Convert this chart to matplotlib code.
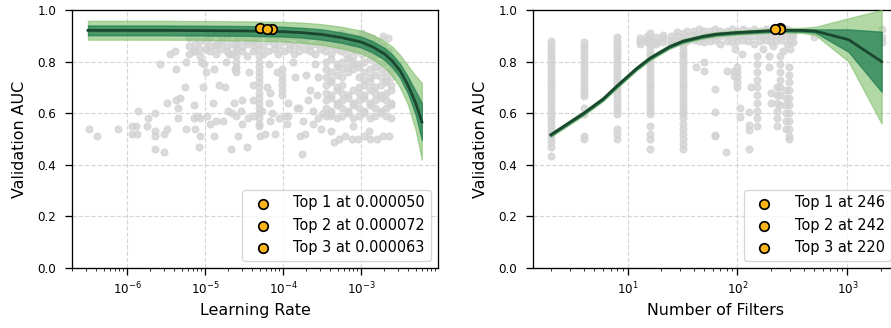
import matplotlib.pyplot as plt
import numpy as np

# ---- learning-rate panel: fitted trend + bands (x given as log10 of learning rate) ----
lr_fit_exp = [-6.5, -6.0, -5.5, -5.0, -4.5, -4.0, -3.75, -3.5, -3.25, -3.0,
              -2.85, -2.7, -2.6, -2.5, -2.4, -2.3, -2.22]
lr_fit_mean = [0.921, 0.921, 0.921, 0.920, 0.919, 0.916, 0.912, 0.905, 0.893, 0.876,
               0.857, 0.830, 0.803, 0.765, 0.710, 0.640, 0.566]
lr_outer_hi = [0.958, 0.958, 0.958, 0.957, 0.956, 0.954, 0.951, 0.945, 0.935, 0.920,
               0.904, 0.880, 0.858, 0.826, 0.785, 0.745, 0.717]
lr_outer_lo = [0.885, 0.885, 0.885, 0.884, 0.882, 0.878, 0.873, 0.865, 0.851, 0.832,
               0.810, 0.778, 0.745, 0.700, 0.635, 0.535, 0.420]
lr_inner_hi = [0.940, 0.940, 0.940, 0.939, 0.938, 0.935, 0.931, 0.925, 0.913, 0.897,
               0.879, 0.853, 0.828, 0.792, 0.742, 0.685, 0.640]
lr_inner_lo = [0.902, 0.902, 0.902, 0.901, 0.900, 0.897, 0.893, 0.885, 0.873, 0.855,
               0.835, 0.807, 0.778, 0.738, 0.678, 0.595, 0.496]

# top three runs
lr_top = [0.000050, 0.000072, 0.000063]
lr_top_auc = [0.929, 0.928, 0.928]

# grey scatter of all runs (log10 learning rate, AUC)
lr_sparse_exp = [-6.49, -6.38, -6.11, -5.94, -5.88, -5.94, -5.87, -5.86, -5.73, -5.74,
                 -5.64, -5.64, -5.64, -5.64, -5.52, -5.58, -5.52, -5.49, -5.49, -5.37,
                 -5.37, -5.35, -5.35, -5.32, -5.45, -5.39, -5.26, -5.24, -5.24, -5.16,
                 -5.14, -5.14, -5.13, -5.10, -5.07, -5.08, -5.07, -5.05, -5.03, -5.01,
                 -4.99, -4.97, -4.94, -4.90, -4.89, -4.88, -4.86, -4.86, -4.82, -4.80,
                 -4.77, -4.75, -4.73, -4.71, -4.69, -4.67, -4.65, -4.63, -4.61, -4.58,
                 -4.54, -4.53, -4.52, -4.48, -4.46, -4.44, -4.39, -4.39, -4.37, -4.37,
                 -4.29, -4.27, -4.23, -4.20, -4.18, -4.18, -4.17, -4.17, -4.14, -4.10,
                 -4.08, -3.97, -3.93, -3.93, -3.87, -3.85, -3.82, -3.80, -3.78, -3.76,
                 -3.72, -3.70, -3.68, -3.66, -3.61, -3.59, -3.57, -3.55, -3.51, -3.49,
                 -3.40, -3.38, -3.34, -3.55, -3.62, -3.74, -3.95, -4.05, -4.45, -4.60]
lr_sparse_auc = [0.54, 0.51, 0.54, 0.55, 0.55, 0.52, 0.52, 0.61, 0.58, 0.55,
                 0.60, 0.53, 0.51, 0.46, 0.45, 0.79, 0.52, 0.54, 0.64, 0.65,
                 0.77, 0.62, 0.58, 0.66, 0.83, 0.84, 0.70, 0.80, 0.54, 0.84,
                 0.63, 0.58, 0.54, 0.59, 0.51, 0.47, 0.58, 0.80, 0.70, 0.79,
                 0.76, 0.59, 0.56, 0.64, 0.77, 0.51, 0.57, 0.86, 0.71, 0.88,
                 0.57, 0.70, 0.80, 0.61, 0.83, 0.46, 0.60, 0.64, 0.77, 0.51,
                 0.61, 0.56, 0.65, 0.88, 0.47, 0.76, 0.71, 0.65, 0.59, 0.86,
                 0.51, 0.61, 0.52, 0.70, 0.64, 0.79, 0.68, 0.57, 0.60, 0.52,
                 0.76, 0.59, 0.64, 0.59, 0.80, 0.74, 0.62, 0.62, 0.51, 0.44,
                 0.52, 0.75, 0.65, 0.69, 0.61, 0.79, 0.67, 0.74, 0.54, 0.60,
                 0.59, 0.53, 0.49, 0.58, 0.56, 0.57, 0.56, 0.58, 0.58, 0.59]

lr_band_exp = [-5.21, -5.13, -5.06, -4.99, -4.93, -4.86, -4.79, -4.72, -4.66, -4.59,
               -4.52, -4.46, -4.39, -4.32, -4.26, -4.19, -4.12, -4.06, -3.99, -3.92,
               -3.86, -3.79, -3.72, -3.66, -3.59, -3.52, -3.46, -3.39, -3.32, -3.26,
               -3.19, -3.12, -3.06, -2.99, -2.92, -2.86, -2.79, -2.72, -2.66]
lr_band_row1 = [0.89, 0.90, 0.88, 0.90, 0.89, 0.91, 0.90, 0.89, 0.91, 0.90,
                0.90, 0.91, 0.89, 0.90, 0.91, 0.90, 0.89, 0.90, 0.91, 0.90,
                0.90, 0.89, 0.91, 0.90, 0.90, 0.91, 0.90, 0.89, 0.90, 0.91,
                0.90, 0.90, 0.89, 0.91, 0.90, 0.89, 0.88, 0.90, 0.89]
lr_band_row2 = [0.86, 0.87, 0.85, 0.88, 0.86, 0.87, 0.88, 0.86, 0.87, 0.88,
                0.86, 0.87, 0.88, 0.87, 0.86, 0.88, 0.87, 0.86, 0.88, 0.87,
                0.86, 0.87, 0.88, 0.86, 0.87, 0.88, 0.87, 0.86, 0.88, 0.87,
                0.86, 0.87, 0.88, 0.86, 0.87, 0.86, 0.85, 0.86, 0.84]
lr_band_row3 = [0.83, 0.84, 0.82, 0.85, 0.84, 0.83, 0.85, 0.84, 0.83, 0.85,
                0.84, 0.82, 0.84, 0.85, 0.83, 0.84, 0.85, 0.83, 0.84, 0.85,
                0.83, 0.84, 0.85, 0.84, 0.83, 0.85, 0.84, 0.83, 0.85, 0.84,
                0.83, 0.85, 0.84, 0.83, 0.84, 0.82, 0.83, 0.84, 0.81]

lr_column_exp = [-4.31] * 15 + [-4.60] * 7 + [-4.01] * 6
lr_column_auc = [0.82, 0.80, 0.78, 0.76, 0.74, 0.72, 0.70, 0.68, 0.66, 0.64,
                 0.62, 0.60, 0.58, 0.56, 0.55,
                 0.88, 0.86, 0.84, 0.82, 0.80, 0.78, 0.76,
                 0.77, 0.75, 0.73, 0.71, 0.69, 0.67]

lr_cluster_exp = [-3.45, -3.38, -3.31, -3.24, -3.17, -3.10, -3.03, -2.96, -2.89, -2.82,
                  -2.75, -2.68, -2.62]
lr_cluster_rows = [
    [0.80, 0.81, 0.79, 0.80, 0.81, 0.80, 0.79, 0.80, 0.81, 0.80, 0.79, 0.80, 0.80],
    [0.77, 0.76, 0.78, 0.77, 0.76, 0.77, 0.78, 0.76, 0.77, 0.78, 0.77, 0.76, 0.77],
    [0.74, 0.73, 0.75, 0.74, 0.78, 0.79, 0.74, 0.73, 0.74, 0.75, 0.74, 0.73, 0.74],
    [0.71, 0.72, 0.70, 0.71, 0.81, 0.82, 0.70, 0.71, 0.72, 0.70, 0.71, 0.72, 0.71],
    [0.68, 0.67, 0.69, 0.68, 0.67, 0.69, 0.68, 0.67, 0.69, 0.68, 0.67, 0.68, 0.69],
    [0.65, 0.66, 0.64, 0.65, 0.66, 0.64, 0.65, 0.66, 0.64, 0.65, 0.66, 0.65, 0.64],
    [0.62, 0.61, 0.63, 0.62, 0.61, 0.63, 0.62, 0.61, 0.63, 0.62, 0.61, 0.62, 0.63],
    [0.59, 0.60, 0.58, 0.59, 0.60, 0.58, 0.59, 0.60, 0.58, 0.59, 0.60, 0.59, 0.58],
]
lr_low_row_exp = [-3.28, -3.20, -3.12, -3.04, -2.96, -2.88, -2.80, -2.72, -2.64, -3.10, -2.90]
lr_low_row_auc = [0.50, 0.51, 0.50, 0.50, 0.51, 0.50, 0.50, 0.51, 0.51, 0.55, 0.53]

# ---- number-of-filters panel ----
nf_fit = [2, 4, 6, 8, 12, 16, 24, 32, 48, 64, 96, 128, 192, 256, 384, 512, 1024, 2048]
nf_fit_mean = [0.516, 0.600, 0.655, 0.705, 0.772, 0.813, 0.857, 0.879, 0.897, 0.906,
               0.912, 0.915, 0.919, 0.921, 0.921, 0.918, 0.885, 0.800]
nf_outer_hi = [0.524, 0.608, 0.663, 0.713, 0.780, 0.821, 0.865, 0.887, 0.905, 0.914,
               0.920, 0.923, 0.927, 0.929, 0.931, 0.935, 0.968, 1.000]
nf_outer_lo = [0.508, 0.592, 0.647, 0.697, 0.764, 0.805, 0.849, 0.871, 0.889, 0.898,
               0.904, 0.907, 0.911, 0.913, 0.911, 0.903, 0.800, 0.560]
nf_inner_hi = [0.520, 0.604, 0.659, 0.709, 0.776, 0.817, 0.861, 0.883, 0.901, 0.910,
               0.916, 0.919, 0.923, 0.925, 0.926, 0.925, 0.925, 0.916]
nf_inner_lo = [0.512, 0.596, 0.651, 0.701, 0.768, 0.809, 0.853, 0.875, 0.893, 0.902,
               0.908, 0.911, 0.915, 0.917, 0.916, 0.912, 0.838, 0.683]

nf_top = [246, 242, 220]
nf_top_auc = [0.929, 0.928, 0.928]

nf_col_auc_2 = [0.88, 0.865, 0.85, 0.835, 0.82, 0.805, 0.79, 0.775, 0.76, 0.745,
                0.73, 0.715, 0.70, 0.685, 0.67, 0.655, 0.64, 0.625, 0.61, 0.595,
                0.58, 0.565, 0.55, 0.535, 0.52, 0.505, 0.49, 0.47, 0.435]
nf_col_auc_4 = [0.875, 0.86, 0.845, 0.83, 0.815, 0.80, 0.785, 0.77, 0.755, 0.74,
                0.725, 0.71, 0.695, 0.68, 0.665, 0.62, 0.595, 0.51, 0.50]
nf_col_auc_8 = [0.895, 0.88, 0.865, 0.85, 0.835, 0.82, 0.805, 0.79, 0.775, 0.76,
                0.745, 0.73, 0.715, 0.70, 0.685, 0.67, 0.655, 0.64, 0.625, 0.61,
                0.595, 0.54, 0.52, 0.50]
nf_col_auc_16 = [0.91, 0.895, 0.88, 0.865, 0.85, 0.835, 0.82, 0.805, 0.79, 0.775,
                 0.76, 0.745, 0.73, 0.715, 0.70, 0.685, 0.67, 0.655, 0.64, 0.625,
                 0.61, 0.595, 0.55, 0.52, 0.50, 0.46]
nf_col_auc_32 = [0.91, 0.895, 0.88, 0.865, 0.85, 0.835, 0.82, 0.805, 0.79, 0.775,
                 0.76, 0.745, 0.73, 0.715, 0.70, 0.685, 0.67, 0.655, 0.64, 0.625,
                 0.61, 0.595, 0.58, 0.56, 0.54, 0.52, 0.50, 0.48, 0.46]

nf_cloud_f = [13, 15, 18, 21, 25, 28, 35, 40, 45, 50, 56, 63, 70, 80, 90, 100, 112,
              125, 140, 160, 180, 200, 225, 250, 280, 300, 320]
nf_cloud_row1 = [0.89, 0.90, 0.895, 0.905, 0.90, 0.915, 0.92, 0.92, 0.925, 0.92,
                 0.92, 0.925, 0.92, 0.92, 0.925, 0.92, 0.925, 0.92, 0.925, 0.92,
                 0.925, 0.92, 0.925, 0.92, 0.925, 0.92, 0.915]
nf_cloud_row2 = [0.88, 0.885, 0.875, 0.89, 0.885, 0.90, 0.90, 0.905, 0.90, 0.90,
                 0.905, 0.90, 0.90, 0.905, 0.90, 0.90, 0.905, 0.90, 0.90, 0.905,
                 0.90, 0.90, 0.905, 0.90, 0.90, 0.905, 0.90]
nf_cloud_row3 = [0.87, 0.875, 0.87, 0.875, 0.87, 0.88, 0.88, 0.885, 0.88, 0.875,
                 0.88, 0.885, 0.87, 0.88, 0.875, 0.88, 0.885, 0.88, 0.87, 0.88,
                 0.885, 0.875, 0.88, 0.885, 0.87, 0.88, 0.875]

nf_misc_f = [42, 50, 50, 63, 63, 63, 63, 78, 81, 93, 93,
             100, 100, 100, 100, 100, 105, 105, 132, 128, 128, 128, 128,
             152, 152, 152, 152, 152, 152, 152, 152, 152, 152,
             195, 195, 200, 200,
             230, 230, 230, 230, 230, 230,
             245, 245, 245, 245, 245, 245, 245,
             275, 275, 275, 275, 275, 275,
             295, 295, 295, 295, 295, 295, 295, 295, 295, 295, 295,
             95, 110, 170, 210, 260, 300, 500, 2048, 2048, 2048]
nf_misc_auc = [0.78, 0.765, 0.80, 0.695, 0.605, 0.515, 0.51, 0.45, 0.765, 0.765, 0.745,
               0.78, 0.76, 0.74, 0.72, 0.70, 0.62, 0.585, 0.70, 0.605, 0.555, 0.535, 0.46,
               0.82, 0.79, 0.76, 0.73, 0.70, 0.67, 0.64, 0.61, 0.58, 0.55,
               0.82, 0.78, 0.68, 0.64,
               0.70, 0.67, 0.64, 0.61, 0.58, 0.55,
               0.82, 0.79, 0.76, 0.73, 0.70, 0.67, 0.63,
               0.69, 0.66, 0.63, 0.60, 0.57, 0.54,
               0.78, 0.75, 0.72, 0.69, 0.66, 0.63, 0.60, 0.57, 0.54, 0.51, 0.50,
               0.85, 0.83, 0.85, 0.86, 0.84, 0.85, 0.894, 0.925, 0.895, 0.875]

# ---- assemble scatter arrays ----
lr_pts_exp = (lr_sparse_exp + lr_band_exp * 3 + lr_column_exp
              + lr_cluster_exp * len(lr_cluster_rows) + lr_low_row_exp)
lr_pts_auc = (lr_sparse_auc + lr_band_row1 + lr_band_row2 + lr_band_row3 + lr_column_auc
              + [v for row in lr_cluster_rows for v in row] + lr_low_row_auc)
lr_pts = 10.0 ** np.array(lr_pts_exp)
lr_fit = 10.0 ** np.array(lr_fit_exp)

nf_pts = ([2] * len(nf_col_auc_2) + [4] * len(nf_col_auc_4) + [8] * len(nf_col_auc_8)
          + [16] * len(nf_col_auc_16) + [32] * len(nf_col_auc_32)
          + nf_cloud_f * 3 + nf_misc_f)
nf_pts_auc = (nf_col_auc_2 + nf_col_auc_4 + nf_col_auc_8 + nf_col_auc_16 + nf_col_auc_32
              + nf_cloud_row1 + nf_cloud_row2 + nf_cloud_row3 + nf_misc_auc)

GREY = 'lightgray'
OUTER = '#7fbf6a'
INNER = '#1b7a4f'
LINE = '#1a472f'
GOLD = '#fbb41a'

plt.rcParams['axes.linewidth'] = 1.0


def draw_panel(ax, x_pts, y_pts, x_fit, mean, o_lo, o_hi, i_lo, i_hi, top_x, top_y, fmt):
    ax.scatter(x_pts, y_pts, s=26, color=GREY, alpha=0.8, zorder=2)
    ax.fill_between(x_fit, o_lo, o_hi, color=OUTER, alpha=0.6, zorder=3)
    ax.fill_between(x_fit, i_lo, i_hi, color=INNER, alpha=0.7, zorder=4)
    ax.plot(x_fit, mean, color=LINE, lw=2.1, zorder=5)
    for i, (tx, ty) in enumerate(zip(top_x, top_y)):
        ax.scatter([tx], [ty], s=52, color=GOLD, edgecolor='black', linewidth=1.3,
                   zorder=6, label=f'Top {i + 1} at {fmt(tx)}')
    ax.set_xscale('log')
    ax.set_ylim(0, 1.0)
    ax.set_ylabel('Validation AUC', fontsize=12, labelpad=8)
    ax.tick_params(axis='both', which='both', labelsize=9)
    ax.tick_params(axis='both', which='major', length=5, width=1.0)
    ax.tick_params(axis='y', which='major', pad=7)
    ax.tick_params(axis='x', which='major', pad=5)
    ax.grid(True, linestyle='--', color='#cccccc', linewidth=0.9, alpha=0.8)
    ax.set_axisbelow(True)
    ax.legend(loc='lower right', fontsize=11, handletextpad=1.1)


fig = plt.figure(figsize=(891 / 95, 328 / 95), dpi=95)
ax1 = fig.add_axes([72 / 891, 60 / 328, 366 / 891, 258 / 328])
ax2 = fig.add_axes([533 / 891, 60 / 328, 365 / 891, 258 / 328])

draw_panel(ax1, lr_pts, lr_pts_auc, lr_fit, lr_fit_mean, lr_outer_lo, lr_outer_hi,
           lr_inner_lo, lr_inner_hi, lr_top, lr_top_auc, lambda v: f'{v:.6f}')
ax1.set_xlim(10 ** -6.705, 10 ** -2.013)
ax1.set_xlabel('Learning Rate', fontsize=12)

draw_panel(ax2, nf_pts, nf_pts_auc, nf_fit, nf_fit_mean, nf_outer_lo, nf_outer_hi,
           nf_inner_lo, nf_inner_hi, nf_top, nf_top_auc, lambda v: f'{v}')
ax2.set_xlim(10 ** 0.14, 10 ** 3.46)
ax2.set_xlabel('Number of Filters', fontsize=12)

fig.savefig('out.png', dpi=95)
